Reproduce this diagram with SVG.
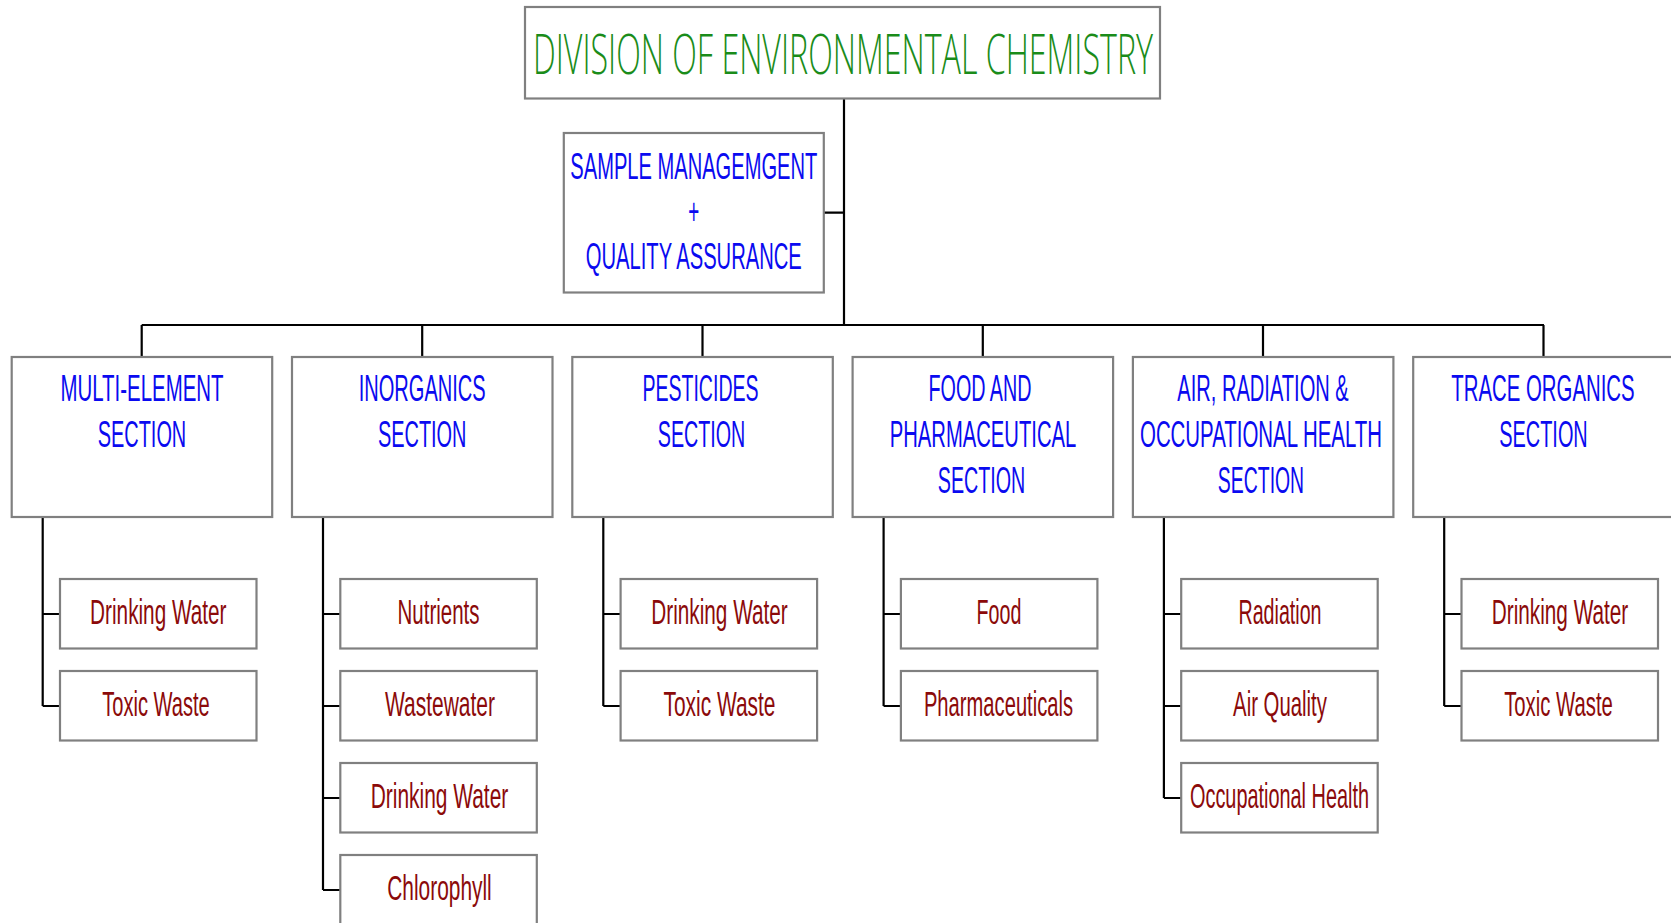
<svg xmlns="http://www.w3.org/2000/svg" width="1671" height="923" viewBox="0 0 1671 923">
<style>
.box{fill:#fff;stroke:#808080;stroke-width:2.2}
.ln{fill:none;stroke:#000;stroke-width:2.2}
.ttl{font-family:"Open Sans","Liberation Sans",sans-serif;font-weight:300;font-size:55px;fill:#1a8c1a;text-anchor:middle}
.sec{font-family:"Liberation Sans",Arial,sans-serif;font-size:36px;fill:#0a0af0;text-anchor:middle}
.sub{font-family:"Liberation Sans",Arial,sans-serif;font-size:35px;fill:#8b0a0a;text-anchor:middle}
</style>
<rect width="1671" height="923" fill="#fff"/>
<g id="connectors">
<path class="ln" d="M844 98.5V325M824 212.7H844M141.7 325H1544M141.7 325V357M422.2 325V357M702.5 325V357M982.8 325V357M1263 325V357M1543.5 325V357"/>
<path class="ln" d="M42.7 517V706M42.7 614H60M42.7 706H60"/>
<path class="ln" d="M323 517V890M323 614H340M323 706H340M323 798H340M323 890H340"/>
<path class="ln" d="M603.3 517V706M603.3 614H620M603.3 706H620"/>
<path class="ln" d="M883.6 517V706M883.6 614H901M883.6 706H901"/>
<path class="ln" d="M1163.9 517V798M1163.9 614H1181M1163.9 706H1181M1163.9 798H1181"/>
<path class="ln" d="M1444.2 517V706M1444.2 614H1461M1444.2 706H1461"/>
</g>
<g id="title">
<rect class="box" x="525" y="7" width="635" height="91.5"/>
<text class="ttl" x="843" y="74" textLength="620" lengthAdjust="spacingAndGlyphs">DIVISION OF ENVIRONMENTAL CHEMISTRY</text>
</g>
<g id="sample">
<rect class="box" x="563.8" y="133" width="260" height="159.5"/>
<text class="sec" font-size="35" x="693.8" y="178.5" textLength="247" lengthAdjust="spacingAndGlyphs">SAMPLE MANAGEMGENT</text>
<text class="sec" font-size="35" x="693.8" y="223.5" textLength="11" lengthAdjust="spacingAndGlyphs">+</text>
<text class="sec" font-size="35" x="693.8" y="268.5" textLength="216" lengthAdjust="spacingAndGlyphs">QUALITY ASSURANCE</text>
</g>
<g id="sec-multi">
<rect class="box" x="11.7" y="357" width="260.5" height="160"/>
<text class="sec" x="142" y="401" textLength="163" lengthAdjust="spacingAndGlyphs">MULTI-ELEMENT</text>
<text class="sec" x="142" y="447" textLength="88.5" lengthAdjust="spacingAndGlyphs">SECTION</text>
</g>
<g id="sec-inorganics">
<rect class="box" x="292" y="357" width="260.5" height="160"/>
<text class="sec" x="422.2" y="401" textLength="127" lengthAdjust="spacingAndGlyphs">INORGANICS</text>
<text class="sec" x="422.2" y="447" textLength="88.5" lengthAdjust="spacingAndGlyphs">SECTION</text>
</g>
<g id="sec-pesticides">
<rect class="box" x="572.3" y="357" width="260.5" height="160"/>
<text class="sec" x="700.5" y="401" textLength="116" lengthAdjust="spacingAndGlyphs">PESTICIDES</text>
<text class="sec" x="701.5" y="447" textLength="87.5" lengthAdjust="spacingAndGlyphs">SECTION</text>
</g>
<g id="sec-food">
<rect class="box" x="852.6" y="357" width="260.5" height="160"/>
<text class="sec" x="980" y="401" textLength="103" lengthAdjust="spacingAndGlyphs">FOOD AND</text>
<text class="sec" x="983" y="447" textLength="186.5" lengthAdjust="spacingAndGlyphs">PHARMACEUTICAL</text>
<text class="sec" x="981.5" y="493" textLength="87.5" lengthAdjust="spacingAndGlyphs">SECTION</text>
</g>
<g id="sec-air">
<rect class="box" x="1132.9" y="357" width="260.5" height="160"/>
<text class="sec" x="1263" y="401" textLength="171.5" lengthAdjust="spacingAndGlyphs">AIR, RADIATION &amp;</text>
<text class="sec" x="1261" y="447" textLength="242" lengthAdjust="spacingAndGlyphs">OCCUPATIONAL HEALTH</text>
<text class="sec" x="1261" y="493" textLength="86.3" lengthAdjust="spacingAndGlyphs">SECTION</text>
</g>
<g id="sec-trace">
<rect class="box" x="1413.2" y="357" width="260.5" height="160"/>
<text class="sec" x="1543" y="401" textLength="183.3" lengthAdjust="spacingAndGlyphs">TRACE ORGANICS</text>
<text class="sec" x="1543.5" y="447" textLength="88.5" lengthAdjust="spacingAndGlyphs">SECTION</text>
</g>
<g id="c1-drinking"><rect class="box" x="60" y="579" width="196.5" height="69.5"/><text class="sub" x="158.3" y="624.3" textLength="136.4" lengthAdjust="spacingAndGlyphs">Drinking Water</text></g>
<g id="c1-toxic"><rect class="box" x="60" y="671" width="196.5" height="69.5"/><text class="sub" x="156" y="716.3" textLength="107.6" lengthAdjust="spacingAndGlyphs">Toxic Waste</text></g>
<g id="c2-nutrients"><rect class="box" x="340.3" y="579" width="196.5" height="69.5"/><text class="sub" x="438.5" y="624.3" textLength="82" lengthAdjust="spacingAndGlyphs">Nutrients</text></g>
<g id="c2-wastewater"><rect class="box" x="340.3" y="671" width="196.5" height="69.5"/><text class="sub" x="440" y="716.3" textLength="110" lengthAdjust="spacingAndGlyphs">Wastewater</text></g>
<g id="c2-drinking"><rect class="box" x="340.3" y="763" width="196.5" height="69.5"/><text class="sub" x="439.5" y="808.3" textLength="137.5" lengthAdjust="spacingAndGlyphs">Drinking Water</text></g>
<g id="c2-chlorophyll"><rect class="box" x="340.3" y="855" width="196.5" height="69.5"/><text class="sub" x="439.5" y="900.3" textLength="104.4" lengthAdjust="spacingAndGlyphs">Chlorophyll</text></g>
<g id="c3-drinking"><rect class="box" x="620.6" y="579" width="196.5" height="69.5"/><text class="sub" x="719.5" y="624.3" textLength="136.4" lengthAdjust="spacingAndGlyphs">Drinking Water</text></g>
<g id="c3-toxic"><rect class="box" x="620.6" y="671" width="196.5" height="69.5"/><text class="sub" x="719.5" y="716.3" textLength="112" lengthAdjust="spacingAndGlyphs">Toxic Waste</text></g>
<g id="c4-food"><rect class="box" x="900.9" y="579" width="196.5" height="69.5"/><text class="sub" x="999" y="624.3" textLength="44.8" lengthAdjust="spacingAndGlyphs">Food</text></g>
<g id="c4-pharma"><rect class="box" x="900.9" y="671" width="196.5" height="69.5"/><text class="sub" x="998.5" y="716.3" textLength="149.2" lengthAdjust="spacingAndGlyphs">Pharmaceuticals</text></g>
<g id="c5-radiation"><rect class="box" x="1181.2" y="579" width="196.5" height="69.5"/><text class="sub" x="1280" y="624.3" textLength="83" lengthAdjust="spacingAndGlyphs">Radiation</text></g>
<g id="c5-air"><rect class="box" x="1181.2" y="671" width="196.5" height="69.5"/><text class="sub" x="1280" y="716.3" textLength="93.8" lengthAdjust="spacingAndGlyphs">Air Quality</text></g>
<g id="c5-occupational"><rect class="box" x="1181.2" y="763" width="196.5" height="69.5"/><text class="sub" x="1279.5" y="808.3" textLength="179" lengthAdjust="spacingAndGlyphs">Occupational Health</text></g>
<g id="c6-drinking"><rect class="box" x="1461.5" y="579" width="196.5" height="69.5"/><text class="sub" x="1560" y="624.3" textLength="136.4" lengthAdjust="spacingAndGlyphs">Drinking Water</text></g>
<g id="c6-toxic"><rect class="box" x="1461.5" y="671" width="196.5" height="69.5"/><text class="sub" x="1558.5" y="716.3" textLength="108.7" lengthAdjust="spacingAndGlyphs">Toxic Waste</text></g>
</svg>
